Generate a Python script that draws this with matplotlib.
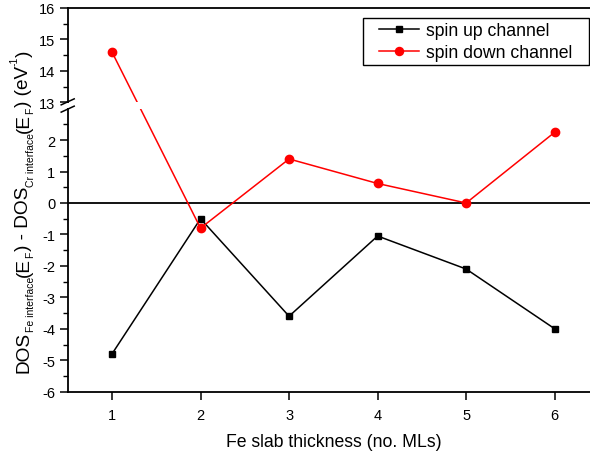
import matplotlib
matplotlib.use("Agg")
import numpy as np
import matplotlib.pyplot as plt
from matplotlib.lines import Line2D
from matplotlib.patches import Rectangle
from matplotlib.transforms import IdentityTransform

plt.rcParams['font.family'] = ['Liberation Sans', 'DejaVu Sans']

# Data: interface DOS difference at E_F vs Fe slab thickness
thickness = [1, 2, 3, 4, 5, 6]
spin_up = [-4.8, -0.5, -3.6, -1.05, -2.1, -4.0]
spin_down = [14.6, -0.8, 1.4, 0.62, 0.0, 2.25]

xticks = [1, 2, 3, 4, 5, 6]
major_yticks = [-6, -5, -4, -3, -2, -1, 0, 1, 2, 13, 14, 15, 16]
minor_yticks = [-5.5, -4.5, -3.5, -2.5, -1.5, -0.5, 0.5, 1.5, 2.5, 13.5, 14.5, 15.5]

# broken y axis: the range 3..13 is squeezed into a small gap
BRK_LO, BRK_HI, GAP = 3.0, 13.0, 0.2
_src = [-1000.0, BRK_LO, BRK_HI, 1000.0]
_dst = [-1000.0, BRK_LO, BRK_LO + GAP, 1000.0 - (BRK_HI - BRK_LO) + GAP]


def fwd(y):
    return np.interp(y, _src, _dst)


def inv(y):
    return np.interp(y, _dst, _src)


W, H = 590, 452
fig = plt.figure(figsize=(W / 100, H / 100), dpi=100)

x0, x1 = 67.7, 599.0
y_top, y_bot = 9.0, 392.7
ax = fig.add_axes([x0 / W, 1 - y_bot / H, (x1 - x0) / W, (y_bot - y_top) / H])
ax.set_yscale('function', functions=(fwd, inv))

ax.plot(thickness, spin_up, color='black', lw=1.1, marker='s', ms=5.0, zorder=2)
ax.plot(thickness, spin_down, color='#ff0000', lw=1.1, marker='o', ms=6.0, zorder=2)
ax.axhline(0, color='black', lw=1.3, zorder=1.5)
# blank band where the axis is broken
ax.axhspan(BRK_LO + 0.02, BRK_HI - 0.02, color='white', lw=0, zorder=2.3)

ax.set_xlim(0.5, 6.5)
ax.set_ylim(-6, 16)
ax.set_xticks(xticks)
ax.set_xticklabels([str(v) for v in xticks])
ax.set_yticks(major_yticks)
ax.set_yticklabels([str(v) for v in major_yticks])
ax.set_yticks(minor_yticks, minor=True)
ax.yaxis.set_minor_formatter(plt.NullFormatter())

for s in ax.spines.values():
    s.set_linewidth(1.3)
ax.tick_params(axis='both', direction='out', labelsize=10.5, width=1.1)
ax.tick_params(axis='y', which='major', length=6, pad=3)
ax.tick_params(axis='y', which='minor', length=3.5, width=1.0)
ax.tick_params(axis='x', which='major', length=5.5, pad=6)

ax.set_xlabel('Fe slab thickness (no. MLs)', fontsize=12.7, labelpad=8)

# break marks on the left spine
yb_hi = ax.transData.transform((0.5, BRK_HI))[1]
yb_lo = ax.transData.transform((0.5, BRK_LO))[1]
fig.add_artist(Rectangle((x0 - 3, yb_lo + 0.5), 6, yb_hi - yb_lo - 1,
                         transform=IdentityTransform(), facecolor='white',
                         edgecolor='none', zorder=5))
for yc in (yb_hi + 0.5, yb_lo - 0.5):
    fig.add_artist(Line2D([x0 - 6.5, x0 + 6.5], [yc - 3, yc + 3], color='black',
                          lw=1.1, transform=IdentityTransform(), zorder=6))

# y-axis title built from pieces (main text, subscripts, superscript)
MAIN, SMALL = 13.7, 7.5
pieces = [("DOS", MAIN, 0), ("Fe interface", SMALL, 5.0), ("(E", MAIN, 0),
          ("F", SMALL, 5.0), (") - DOS", MAIN, 0), ("Cr interface", SMALL, 5.0),
          ("(E", MAIN, 0), ("F", SMALL, 5.0), (") (eV", MAIN, 0),
          ("-1", SMALL, -10.5), (")", MAIN, 0)]
renderer = fig.canvas.get_renderer()
xb = 28.5
ypos = H - 373.0
for txt, size, dx in pieces:
    t = fig.text(xb + dx, ypos, txt, fontsize=size, rotation=90,
                 rotation_mode='anchor', ha='left', va='baseline',
                 transform=IdentityTransform())
    ypos = t.get_window_extent(renderer).y1

# legend with a plain rectangular frame
fig.add_artist(Rectangle((363, H - 66), 226, 47, transform=IdentityTransform(),
                         facecolor='white', edgecolor='black', lw=1.0, zorder=3))
handles = [Line2D([], [], color='black', lw=1.1, marker='s', ms=5.0),
           Line2D([], [], color='#ff0000', lw=1.1, marker='o', ms=5.8)]
leg = fig.legend(handles, ['spin up channel', 'spin down channel'],
                 loc='upper left', bbox_to_anchor=(379 / W, 1 - 23 / H),
                 bbox_transform=fig.transFigure, fontsize=12.7, frameon=False,
                 borderaxespad=0, borderpad=0, handlelength=2.25,
                 handletextpad=0.4, labelspacing=0.27)
leg.set_zorder(4)

fig.savefig('out.png', dpi=100)
